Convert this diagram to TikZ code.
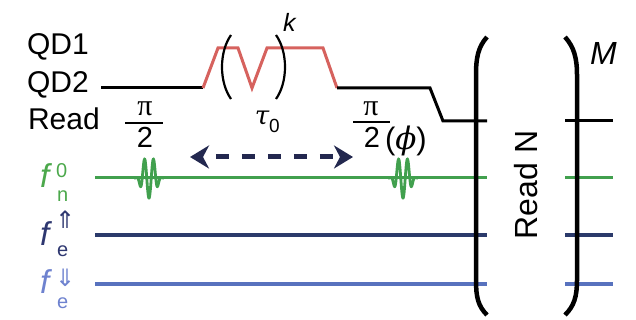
\documentclass[tikz,border=0pt]{standalone}
\usepackage{fontspec}
\setmainfont{Liberation Sans}
\newfontfamily\greekserif{Liberation Serif}
\newfontfamily\dvserif{DejaVu Serif}
\newfontfamily\dvsans{DejaVu Sans}
\usetikzlibrary{arrows.meta}
\definecolor{qdred}{HTML}{D6625E}
\definecolor{gline}{HTML}{41A04E}
\definecolor{nline}{HTML}{2B3A6B}
\definecolor{bline}{HTML}{5872BE}
\definecolor{glab}{HTML}{4BA84B}
\definecolor{nlab}{HTML}{2E3770}
\definecolor{blab}{HTML}{6E82CF}
\definecolor{arrcol}{HTML}{23284F}
\newcommand{\fs}[1]{\fontsize{#1}{#1}\selectfont}
\tikzset{
  lbl/.style={inner sep=0pt, outer sep=0pt},
  qdline/.style={line width=3pt, black, line join=miter},
  redline/.style={line width=3pt, qdred, line join=miter},
  greenline/.style={line width=3pt, gline},
  navyline/.style={line width=4pt, nline},
  blueline/.style={line width=4pt, bline},
  bracket/.style={line width=4.5pt, black},
  fracbar/.style={line width=1.4pt, black},
}
\begin{document}
\begin{tikzpicture}[x=1pt,y=-1pt]
\useasboundingbox (0,0) rectangle (636,320);

% row labels
\node[lbl, anchor=base west, font=\fs{30}] (qd1) at (27,55) {QD1};
\node[lbl, anchor=base west, font=\fs{30}] (qd2) at (27,93) {QD2};
\node[lbl, anchor=base west, font=\fs{30}] (read) at (28,130) {Read};

% QD pulse sequence
\coordinate (q0) at (101,88);
\coordinate (q1) at (203,88);
\coordinate (q2) at (218,48);
\coordinate (q3) at (238,48);
\coordinate (q4) at (252,88);
\coordinate (q5) at (267,48);
\coordinate (q6) at (323,48);
\coordinate (q7) at (337,88);
\coordinate (q8) at (430,88);
\coordinate (q9) at (443,121);
\coordinate (q10) at (487,121);
\coordinate (q11) at (565,121);
\coordinate (q12) at (613,121);
\draw[qdline] (q0) -- (q1);
\draw[redline] (q1) -- (q2) -- (q3) -- (q4) -- (q5) -- (q6) -- (q7);
\draw[qdline] (q7) -- (q8) -- (q9) -- (q10);
\draw[qdline] (q11) -- (q12);

% small parentheses
\draw[line width=2.2pt] (231,35) .. controls (219,52) and (219,82) .. (231,99);
\draw[line width=2.2pt] (276,35) .. controls (288,52) and (288,82) .. (276,99);
\node[lbl, anchor=base west, font=\fs{25}\itshape] (k) at (283,32) {k};
\node[lbl, anchor=base, font=\fs{26}\dvserif\itshape] (tau) at (262,125) {τ};
\node[lbl, anchor=base west, font=\fs{19}] (tau0) at (269,133) {0};

% pi/2 left
\node[lbl, font=\fs{30}\greekserif] (pil) at (145,109) {π};
\draw[fracbar] (125,123) -- (163,123);
\node[lbl, anchor=base, font=\fs{29}] (twol) at (145,148) {2};

% pi/2(phi) right
\node[lbl, font=\fs{30}\greekserif] (pir) at (371,109) {π};
\draw[fracbar] (353,122) -- (390,122);
\node[lbl, anchor=base, font=\fs{29}] (twor) at (372,148) {2};
\node[lbl, anchor=base west, font=\fs{31}] (phi) at (385,150) {({\dvserif\itshape ϕ})};

% dashed double arrow
\coordinate (al) at (190,157);
\coordinate (ar) at (353,157);
\draw[arrcol, line width=5pt, dash pattern=on 13pt off 13pt, dash phase=-14pt,
  {Stealth[length=19pt,width=23pt,inset=6pt]}-{Stealth[length=19pt,width=23pt,inset=6pt]}] (al) -- (ar);

% frequency lines
\draw[greenline] (95,178) -- (487,178);
\draw[greenline] (565,178) -- (613,178);
\draw[navyline] (95,235) -- (487,235);
\draw[navyline] (565,235) -- (613,235);
\draw[blueline] (95,284) -- (487,284);
\draw[blueline] (565,284) -- (613,284);

% RF pulses
\draw[greenline, line width=2.8pt] plot[domain=-15:15, samples=160, smooth]
  ({149+\x},{178+20*exp(-(\x/9)*(\x/9)*(\x/9)*(\x/9))*cos(360*\x/9)});
\draw[greenline, line width=2.8pt] plot[domain=-15:15, samples=160, smooth]
  ({403+\x},{178+20*exp(-(\x/9)*(\x/9)*(\x/9)*(\x/9))*cos(360*\x/9)});

% frequency labels
\node[lbl, anchor=base west, font=\fs{33}\itshape, text=glab] (fn) at (40,188) {f};
\node[lbl, anchor=base west, font=\fs{20}, text=glab] (fnsup) at (56,178) {0};
\node[lbl, anchor=base west, font=\fs{20}, text=glab] (fnsub) at (57,202) {n};
\node[lbl, anchor=base west, font=\fs{33}\itshape, text=nlab] (fu) at (40,245) {f};
\node[lbl, anchor=base west, font=\fs{24}\dvsans, text=nlab] (fusup) at (55,229) {⇑};
\node[lbl, anchor=base west, font=\fs{20}, text=nlab] (fusub) at (57,256) {e};
\node[lbl, anchor=base west, font=\fs{33}\itshape, text=blab] (fd) at (40,293) {f};
\node[lbl, anchor=base west, font=\fs{24}\dvsans, text=blab] (fdsup) at (55,286) {⇓};
\node[lbl, anchor=base west, font=\fs{20}, text=blab] (fdsub) at (57,308) {e};

% big brackets
\draw[bracket] (487,37) .. controls (478,47) and (476,58) .. (476,75) -- (476,280) .. controls (476,297) and (478,306) .. (487,315);
\draw[bracket] (565,37) .. controls (574,47) and (577,58) .. (577,75) -- (577,280) .. controls (577,297) and (574,306) .. (565,315);
\node[lbl, anchor=base, rotate=90, font=\fs{32}] (readn) at (537,185) {Read N};
\node[lbl, anchor=base west, font=\fs{32}\itshape] (m) at (590,65) {M};
\end{tikzpicture}
\end{document}
